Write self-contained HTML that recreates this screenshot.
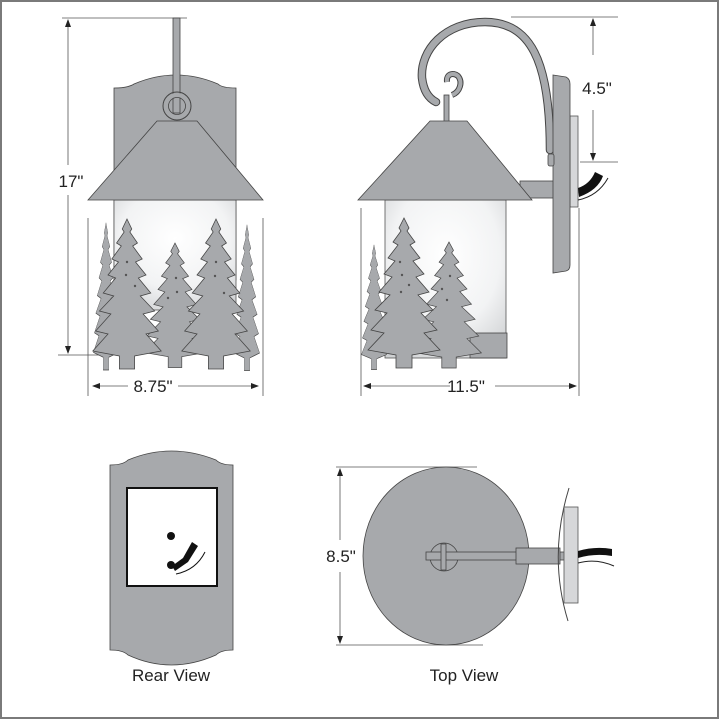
<!DOCTYPE html>
<html><head><meta charset="utf-8"><style>
html,body{margin:0;padding:0;background:#fff}
svg{display:block}
text{font-family:"Liberation Sans",sans-serif;fill:#222}
</style></head><body>
<svg width="720" height="720" viewBox="0 0 720 720" xmlns="http://www.w3.org/2000/svg">
<defs>
<radialGradient id="gl" cx="0.5" cy="0.35" r="0.75">
<stop offset="0" stop-color="#ffffff"/><stop offset="0.6" stop-color="#f2f3f4"/><stop offset="1" stop-color="#cfd1d3"/>
</radialGradient>
<path id="tree" d="M0,0 L5,10 L3,13 L11,24 L6,27 L16,40 L9,43 L20,56 L12,59 L25,74 L14,77 L29,92 L17,95 L33,112 L20,115 L36,132 L8,137 L8,150 L-8,150 L-8,137 L-36,132 L-20,115 L-33,112 L-17,95 L-29,92 L-14,77 L-25,74 L-12,59 L-20,56 L-9,43 L-16,40 L-6,27 L-11,24 L-3,13 L-5,10 Z" fill="#a7a9ac" stroke="#444" stroke-width="0.8"/>
<marker id="ar" markerWidth="8" markerHeight="8" refX="7" refY="4" orient="auto" markerUnits="userSpaceOnUse"><path d="M0,1 L8,4 L0,7 Z" fill="#222"/></marker>
</defs>
<rect x="1" y="1" width="717" height="717" fill="none" stroke="#7a7a7a" stroke-width="2"/>

<!-- FRONT VIEW -->
<g stroke="#555" stroke-width="0.8" fill="none">
<line x1="62" y1="18" x2="187" y2="18"/>
<line x1="58" y1="355" x2="105" y2="355"/>
<line x1="88" y1="218" x2="88" y2="396"/>
<line x1="263" y1="218" x2="263" y2="396"/>
<line x1="68" y1="165" x2="68" y2="20" marker-end="url(#ar)"/>
<line x1="68" y1="195" x2="68" y2="353" marker-end="url(#ar)"/>
<line x1="128" y1="386" x2="93" y2="386" marker-end="url(#ar)"/>
<line x1="178" y1="386" x2="258" y2="386" marker-end="url(#ar)"/>
</g>
<text x="71" y="187" font-size="17" text-anchor="middle">17"</text>
<text x="153" y="392" font-size="17" text-anchor="middle">8.75"</text>
<path d="M114,88 L114,280 L236,280 L236,88 Q222,88 218,84 Q176,66 134,84 Q128,88 114,88 Z" fill="#a7a9ac" stroke="#444" stroke-width="0.8"/>
<rect x="114" y="200" width="122" height="110" fill="url(#gl)" stroke="#555" stroke-width="0.8"/>
<rect x="173" y="18" width="7" height="95" fill="#a7a9ac" stroke="#444" stroke-width="0.8"/>
<circle cx="177" cy="106" r="14" fill="none" stroke="#444" stroke-width="1"/>
<circle cx="177" cy="106" r="11" fill="none" stroke="#a7a9ac" stroke-width="4"/>
<circle cx="177" cy="106" r="8.5" fill="none" stroke="#444" stroke-width="0.8"/>
<path d="M157,121 L197,121 L263,200 L88,200 Z" fill="#a7a9ac" stroke="#444" stroke-width="0.8"/>
<g>
<use href="#tree" transform="translate(106,223) scale(0.35,0.98)"/>
<use href="#tree" transform="translate(247,225) scale(0.35,0.97)"/>
<use href="#tree" transform="translate(175,243) scale(0.85,0.83)"/>
<use href="#tree" transform="translate(127,219) scale(0.95,1)"/>
<use href="#tree" transform="translate(216,219) scale(0.95,1)"/>
</g>
<g fill="#555"><circle cx="127" cy="262" r="1.2"/><circle cx="126" cy="275" r="1.2"/><circle cx="135" cy="286" r="1.2"/><circle cx="216" cy="262" r="1.2"/><circle cx="215" cy="276" r="1.2"/><circle cx="176" cy="278" r="1.2"/><circle cx="177" cy="292" r="1.2"/><circle cx="168" cy="298" r="1.2"/><circle cx="224" cy="293" r="1.2"/></g>

<!-- SIDE VIEW -->
<g stroke="#555" stroke-width="0.8" fill="none">
<line x1="511" y1="17" x2="618" y2="17"/>
<line x1="580" y1="162" x2="618" y2="162"/>
<line x1="361" y1="208" x2="361" y2="396"/>
<line x1="579" y1="208" x2="579" y2="396"/>
<line x1="593" y1="55" x2="593" y2="19" marker-end="url(#ar)"/>
<line x1="593" y1="110" x2="593" y2="160" marker-end="url(#ar)"/>
<line x1="450" y1="386" x2="364" y2="386" marker-end="url(#ar)"/>
<line x1="495" y1="386" x2="576" y2="386" marker-end="url(#ar)"/>
</g>
<text x="597" y="94" font-size="17" text-anchor="middle">4.5"</text>
<text x="466" y="392" font-size="17" text-anchor="middle">11.5"</text>
<path d="M550,150 C550,60 530,22 485,22 C445,22 420,50 422,78 C424,95 432,100 436,102" fill="none" stroke="#444" stroke-width="8.5" stroke-linecap="round"/>
<path d="M550,150 C550,60 530,22 485,22 C445,22 420,50 422,78 C424,95 432,100 436,102" fill="none" stroke="#a7a9ac" stroke-width="6.5" stroke-linecap="round"/>
<path d="M447,82 C446,74 453,72 458,76 C463,82 460,92 452,95" fill="none" stroke="#444" stroke-width="6"/>
<path d="M447,82 C446,74 453,72 458,76 C463,82 460,92 452,95" fill="none" stroke="#a7a9ac" stroke-width="4"/>
<rect x="444" y="95" width="5" height="27" fill="#a7a9ac" stroke="#444" stroke-width="0.8"/>
<rect x="520" y="181" width="35" height="17" fill="#a7a9ac" stroke="#444" stroke-width="0.8"/>
<rect x="570" y="116" width="8" height="91" fill="#d6d7d9" stroke="#555" stroke-width="0.8"/>
<path d="M553,75 L566,77 Q570,79 570,84 L570,265 Q570,270 566,271 L553,273 Z" fill="#a7a9ac" stroke="#444" stroke-width="0.8"/>
<rect x="548" y="154" width="6" height="12" rx="2" fill="#a7a9ac" stroke="#444" stroke-width="0.8"/>
<path d="M578,188 Q590,184 595,172 L603,176 Q598,190 579,197 Z" fill="#111"/>
<path d="M578,200 Q598,196 608,178" fill="none" stroke="#222" stroke-width="1"/>
<rect x="385" y="200" width="121" height="158" fill="url(#gl)" stroke="#555" stroke-width="0.8"/>
<rect x="470" y="333" width="37" height="25" fill="#a7a9ac" stroke="#444" stroke-width="0.8"/>
<path d="M430,121 L467,121 L532,200 L358,200 Z" fill="#a7a9ac" stroke="#444" stroke-width="0.8"/>
<use href="#tree" transform="translate(374,245) scale(0.35,0.83)"/>
<use href="#tree" transform="translate(449,242) scale(0.9,0.84)"/>
<use href="#tree" transform="translate(404,218) scale(1,1)"/>
<g fill="#555"><circle cx="400" cy="262" r="1.2"/><circle cx="402" cy="275" r="1.2"/><circle cx="409" cy="285" r="1.2"/><circle cx="401" cy="292" r="1.2"/><circle cx="450" cy="276" r="1.2"/><circle cx="442" cy="289" r="1.2"/><circle cx="447" cy="300" r="1.2"/></g>

<!-- REAR VIEW -->
<path d="M110,465 Q123,465 128,460 Q171,442 216,460 Q221,465 233,465 L233,650 Q221,650 216,655 Q171,675 128,655 Q123,650 110,650 Z" fill="#a7a9ac" stroke="#444" stroke-width="0.8"/>
<rect x="127" y="488" width="90" height="98" fill="#fff" stroke="#111" stroke-width="2"/>
<circle cx="171" cy="536" r="4" fill="#111"/>
<circle cx="171" cy="565" r="4" fill="#111"/>
<path d="M172,566 L183,558 L192,542 L198,546 L188,562 L175,571 Z" fill="#111"/>
<path d="M176,574 Q196,570 205,552" fill="none" stroke="#111" stroke-width="1"/>
<text x="171" y="681" font-size="17" text-anchor="middle">Rear View</text>

<!-- TOP VIEW -->
<g stroke="#555" stroke-width="0.8" fill="none">
<line x1="336" y1="467" x2="477" y2="467"/>
<line x1="336" y1="645" x2="483" y2="645"/>
<line x1="340" y1="540" x2="340" y2="469" marker-end="url(#ar)"/>
<line x1="340" y1="572" x2="340" y2="643" marker-end="url(#ar)"/>
</g>
<text x="341" y="562" font-size="17" text-anchor="middle">8.5"</text>
<ellipse cx="446" cy="556" rx="83" ry="89" fill="#a7a9ac" stroke="#444" stroke-width="0.8"/>
<circle cx="444" cy="557" r="14" fill="#a7a9ac" stroke="#444" stroke-width="0.8"/>
<rect x="426" y="552" width="140" height="8" fill="#a7a9ac" stroke="#444" stroke-width="0.8"/>
<rect x="516" y="548" width="44" height="16" fill="#a7a9ac" stroke="#444" stroke-width="0.8"/>
<rect x="441" y="544" width="5" height="26" fill="#a7a9ac" stroke="#444" stroke-width="0.8"/>
<path d="M569,488 Q548,556 568,621" fill="none" stroke="#444" stroke-width="1"/>
<rect x="564" y="507" width="14" height="96" fill="#d6d7d9" stroke="#555" stroke-width="0.8"/>
<path d="M578,551 Q595,546 612,549 L612,556 Q595,553 578,558 Z" fill="#111"/>
<path d="M578,563 Q596,558 614,566" fill="none" stroke="#222" stroke-width="1"/>
<text x="464" y="681" font-size="17" text-anchor="middle">Top View</text>
</svg>
</body></html>
